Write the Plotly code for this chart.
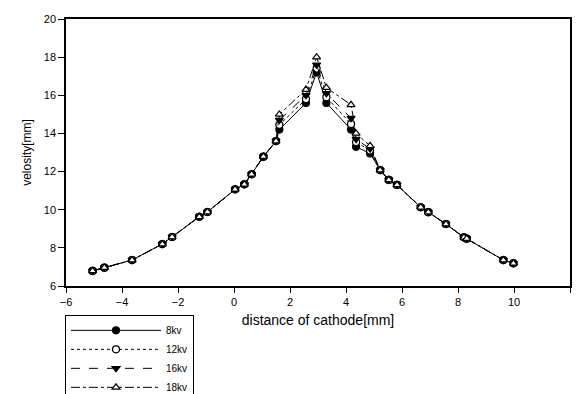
import plotly.graph_objects as go

# shared distance values [mm]
distance = [-5.05, -4.63, -3.64, -2.56, -2.21, -1.24, -0.95, 0.04, 0.37, 0.63,
            1.05, 1.50, 1.62, 2.57, 2.95, 3.30, 4.18, 4.36, 4.86, 5.22,
            5.53, 5.82, 6.67, 6.94, 7.57, 8.21, 8.31, 9.62, 9.98]

v_8kv = [6.79, 6.96, 7.36, 8.20, 8.57, 9.63, 9.88, 11.07, 11.33, 11.86,
         12.78, 13.60, 14.20, 15.60, 17.20, 15.60, 14.20, 13.30, 12.95, 12.08,
         11.56, 11.30, 10.13, 9.87, 9.25, 8.55, 8.48, 7.36, 7.19]
v_12kv = [6.79, 6.96, 7.36, 8.20, 8.57, 9.63, 9.88, 11.07, 11.33, 11.86,
          12.78, 13.60, 14.45, 15.80, 17.40, 15.90, 14.50, 13.55, 13.10, 12.08,
          11.56, 11.30, 10.13, 9.87, 9.25, 8.55, 8.48, 7.36, 7.19]
v_16kv = [6.79, 6.96, 7.36, 8.20, 8.57, 9.63, 9.88, 11.07, 11.33, 11.86,
          12.78, 13.60, 14.70, 16.00, 17.60, 16.10, 14.80, 13.70, 13.20, 12.08,
          11.56, 11.30, 10.13, 9.87, 9.25, 8.55, 8.48, 7.36, 7.19]
v_18kv = [6.79, 6.96, 7.36, 8.20, 8.57, 9.63, 9.88, 11.07, 11.33, 11.86,
          12.78, 13.60, 15.00, 16.30, 18.00, 16.40, 15.50, 14.00, 13.35, 12.08,
          11.56, 11.30, 10.13, 9.87, 9.25, 8.55, 8.48, 7.36, 7.19]

series_names = ["8kv", "12kv", "16kv", "18kv"]
series_values = [v_8kv, v_12kv, v_16kv, v_18kv]
dashes = ["solid", "dot", "dash", "dashdot"]
symbols = ["circle", "circle", "triangle-down", "triangle-up"]
fills = ["black", "white", "black", "white"]

x_ticks = [-6, -4, -2, 0, 2, 4, 6, 8, 10, 12]
y_ticks = [6, 8, 10, 12, 14, 16, 18, 20]

fig = go.Figure()
for name, vals, dash, sym, fill in zip(series_names, series_values, dashes, symbols, fills):
    fig.add_trace(go.Scatter(
        x=distance, y=vals, name=name, mode="lines+markers",
        line=dict(color="black", width=1, dash=dash),
        marker=dict(symbol=sym, size=7, color=fill,
                    line=dict(color="black", width=1.2)),
    ))

axis_font = dict(family="Liberation Sans, Arial, sans-serif", size=11, color="black")
fig.update_layout(
    width=576, height=394,
    margin=dict(l=66, r=6, t=19, b=108, autoexpand=False),
    paper_bgcolor="white", plot_bgcolor="white",
    font=dict(family="Liberation Sans, Arial, sans-serif", color="black"),
    xaxis=dict(range=[-6, 12], tickvals=x_ticks, ticks="outside", ticklen=5,
               tickcolor="black", showline=True, linecolor="black", linewidth=1.5,
               mirror=True, showgrid=False, zeroline=False, tickfont=axis_font,
               title=dict(text="distance of cathode[mm]", font=dict(size=14, color="black"),
                          standoff=8)),
    yaxis=dict(range=[6, 20], tickvals=y_ticks, ticks="outside", ticklen=6,
               tickcolor="black", showline=True, linecolor="black", linewidth=1.5,
               mirror=True, showgrid=False, zeroline=False, tickfont=axis_font,
               title=dict(text="velosity[mm]", font=dict(size=12, color="black"),
                          standoff=10)),
    legend=dict(x=-0.002, y=-0.108, xanchor="left", yanchor="top",
                bordercolor="black", borderwidth=1, bgcolor="white",
                font=dict(size=10, color="black"), tracegroupgap=0, itemwidth=90,
                itemclick=False),
    showlegend=True,
)

fig.write_html("out.html")
